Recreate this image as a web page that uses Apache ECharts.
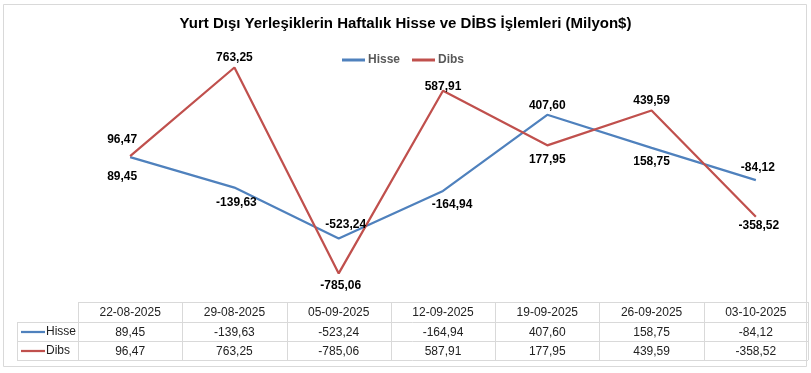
<!DOCTYPE html>
<html><head><meta charset="utf-8">
<script src="https://cdn.jsdelivr.net/npm/echarts@6/dist/echarts.min.js"></script>
<style>html,body{margin:0;padding:0;background:#fff}#c{width:811px;height:373px}</style>
</head><body><div id="c"></div>
<script>
// ---- data ----
const categories = ['22-08-2025','29-08-2025','05-09-2025','12-09-2025','19-09-2025','26-09-2025','03-10-2025'];
const hisse = [89.45, -139.63, -523.24, -164.94, 407.60, 158.75, -84.12];
const dibs  = [96.47, 763.25, -785.06, 587.91, 177.95, 439.59, -358.52];
const seriesNames = ['Hisse', 'Dibs'];
const titleText = 'Yurt Dışı Yerleşiklerin Haftalık Hisse ve DİBS İşlemleri (Milyon$)';

// ---- styles ----
const colors = ['#4f81bd', '#c0504d'];
const hissePos = ['bottom','bottom','top','bottom','top','bottom','top'];
const hisseOff = [[-8,6],[2,1],[7,-3],[9,0],[0,2],[0,0],[2,-2]];
const dibsPos  = ['top','top','bottom','top','bottom','top','bottom'];
const dibsOff  = [[-8,-5],[0,1],[2,-2],[0,7],[0,0],[0,1],[3,-5]];
const FONT = "'Liberation Sans', Arial, sans-serif";
const G = {left: 78, right: 808, top: 36, bottom: 302};
const rowTops = [302, 322, 341, 360];
const lineC = '#d9d9d9';

const fmt = v => v.toFixed(2).replace('.', ',');

function mkData(vals, pos, off) {
  return vals.map((v, i) => ({
    value: v,
    label: {position: pos[i], offset: off[i], distance: pos[i] === 'bottom' ? 8 : 5}
  }));
}

const graphics = [];
graphics.push({type: 'rect', shape: {x: 3.5, y: 4.5, width: 803, height: 362}, style: {fill: 'none', stroke: lineC, lineWidth: 1}, silent: true});
graphics.push({type: 'line', shape: {x1: G.left, y1: rowTops[0] + 0.5, x2: G.right, y2: rowTops[0] + 0.5}, style: {stroke: lineC, lineWidth: 1}});
for (let r = 1; r < rowTops.length; r++) {
  graphics.push({type: 'line', shape: {x1: 17, y1: rowTops[r] + 0.5, x2: G.right, y2: rowTops[r] + 0.5}, style: {stroke: lineC, lineWidth: 1}});
}
const colW = (G.right - G.left) / categories.length;
for (let i = 0; i <= categories.length; i++) {
  const x = Math.round(G.left + i * colW) + 0.5;
  graphics.push({type: 'line', shape: {x1: x, y1: rowTops[0], x2: x, y2: rowTops[3]}, style: {stroke: lineC, lineWidth: 1}});
}
graphics.push({type: 'line', shape: {x1: 17.5, y1: rowTops[1], x2: 17.5, y2: rowTops[3]}, style: {stroke: lineC, lineWidth: 1}});
seriesNames.forEach((n, k) => {
  const yc = (rowTops[k + 1] + rowTops[k + 2]) / 2 + 0.5;
  graphics.push({type: 'line', shape: {x1: 21, y1: yc, x2: 45, y2: yc}, style: {stroke: colors[k], lineWidth: 2.25}});
  graphics.push({type: 'text', x: 46, y: yc, style: {text: n, fill: '#222', font: '12px ' + FONT, verticalAlign: 'middle', align: 'left'}});
});

const chart = echarts.init(document.getElementById('c'));
const axisLbl = {fontFamily: FONT, fontSize: 12, color: '#222', margin: 5, interval: 0};
const lblStyle = {show: true, formatter: p => fmt(p.value), fontFamily: FONT, fontSize: 12, fontWeight: 'bold', color: '#000'};
chart.setOption({
  animation: false,
  backgroundColor: '#fff',
  title: {
    text: titleText, left: 'center', top: 11,
    textStyle: {fontFamily: FONT, fontSize: 15, fontWeight: 'bold', color: '#000'}
  },
  legend: {
    data: seriesNames, left: 337, top: 49, icon: 'rect', itemWidth: 23, itemHeight: 3, itemGap: 12,
    textStyle: {fontFamily: FONT, fontSize: 12, fontWeight: 'bold', color: '#595959', padding: [0, 0, 0, -2]}
  },
  grid: {left: G.left, right: 811 - G.right, top: G.top, bottom: 373 - G.bottom, containLabel: false},
  xAxis: [
    {type: 'category', data: categories, boundaryGap: true, axisLine: {show: false}, axisTick: {show: false}, axisLabel: axisLbl},
    {type: 'category', data: hisse.map(fmt), position: 'bottom', offset: 19.5, boundaryGap: true, axisLine: {show: false}, axisTick: {show: false}, axisLabel: axisLbl},
    {type: 'category', data: dibs.map(fmt), position: 'bottom', offset: 38.5, boundaryGap: true, axisLine: {show: false}, axisTick: {show: false}, axisLabel: axisLbl}
  ],
  yAxis: {type: 'value', min: -1000, max: 1000, show: false, splitLine: {show: false}},
  series: [
    {name: seriesNames[0], type: 'line', data: mkData(hisse, hissePos, hisseOff), showSymbol: true, symbol: 'circle', symbolSize: 0,
     lineStyle: {color: colors[0], width: 2.25}, itemStyle: {color: colors[0]}, label: lblStyle},
    {name: seriesNames[1], type: 'line', data: mkData(dibs, dibsPos, dibsOff), showSymbol: true, symbol: 'circle', symbolSize: 0,
     lineStyle: {color: colors[1], width: 2.25}, itemStyle: {color: colors[1]}, label: lblStyle}
  ],
  graphic: graphics
});
</script>
</body></html>
